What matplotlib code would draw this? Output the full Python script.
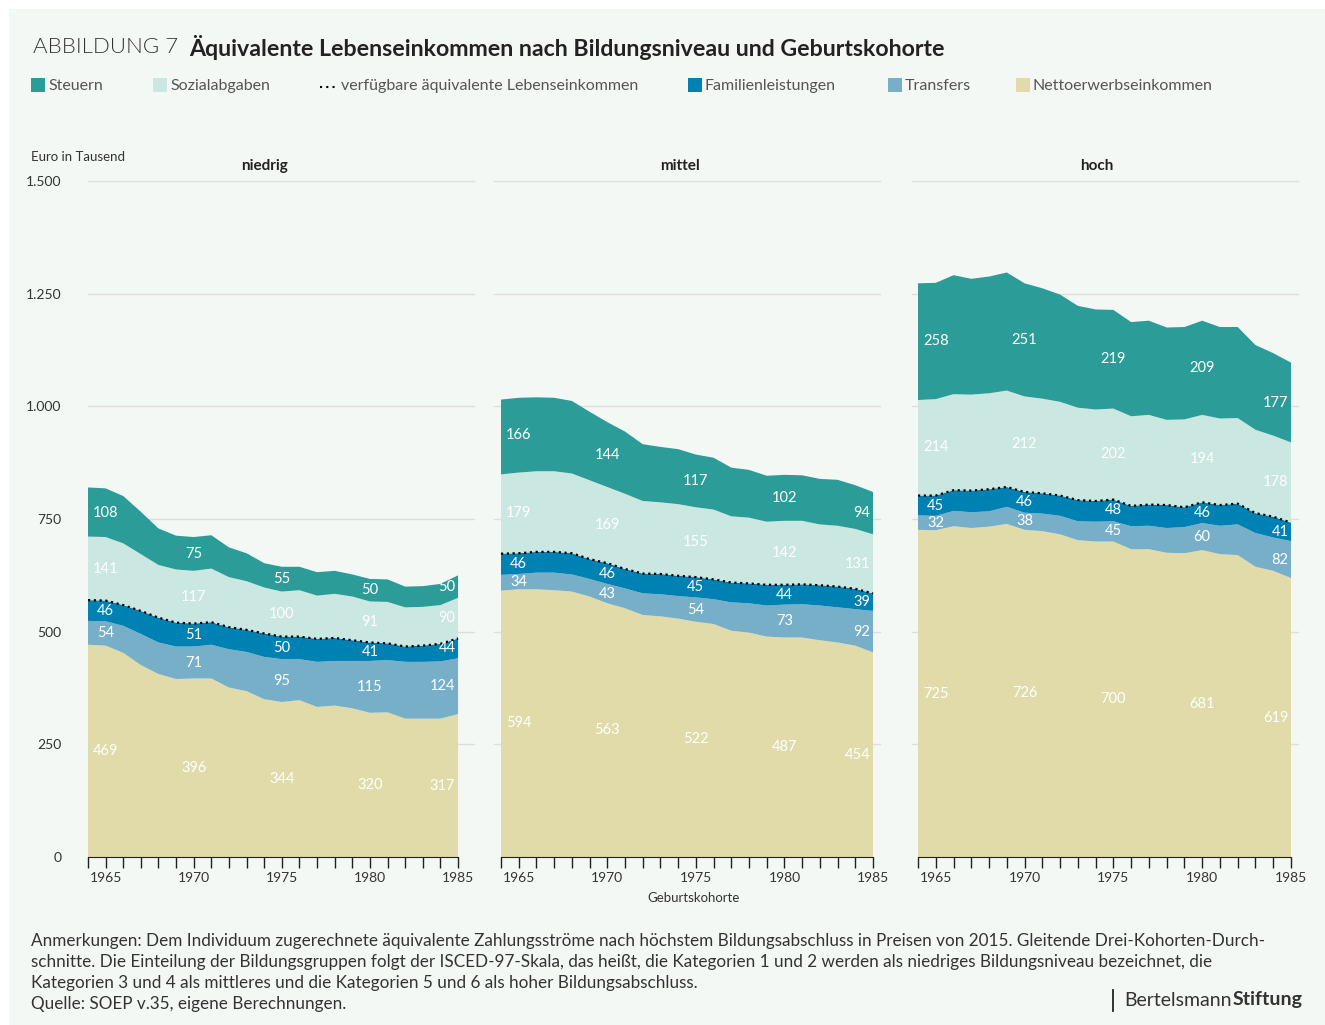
import numpy as np
import matplotlib.pyplot as plt
from matplotlib.patches import Rectangle
from matplotlib.lines import Line2D

plt.rcParams['font.family'] = ['Lato', 'DejaVu Sans']

# Geburtskohorten 1964-1985
jahre = np.arange(1964, 1986)
label_jahre = [1965, 1970, 1975, 1980, 1985]

# niedrig
netto_niedrig = [471, 469, 453, 426, 406, 395, 396, 396, 376, 368, 350, 344, 348, 333, 336, 330, 320, 321, 307, 307, 307, 317]
transfers_niedrig = [53, 54, 60, 69, 70, 72, 71, 75, 85, 87, 94, 95, 91, 100, 99, 105, 115, 116, 126, 126, 127, 124]
familie_niedrig = [46, 46, 46, 51, 55, 53, 51, 50, 49, 49, 52, 50, 50, 51, 51, 46, 41, 37, 34, 36, 39, 44]
sozial_niedrig = [141, 141, 137, 126, 117, 118, 117, 119, 111, 108, 102, 100, 103, 96, 98, 97, 91, 92, 87, 86, 86, 90]
steuern_niedrig = [109, 108, 105, 94, 81, 75, 75, 74, 66, 62, 54, 55, 52, 52, 51, 49, 50, 50, 46, 46, 47, 50]

# mittel
netto_mittel = [591, 594, 594, 592, 589, 578, 563, 552, 537, 534, 529, 522, 517, 502, 498, 489, 487, 487, 481, 476, 469, 454]
transfers_mittel = [35, 34, 37, 39, 38, 39, 43, 44, 48, 49, 50, 54, 55, 63, 65, 69, 73, 74, 77, 78, 81, 92]
familie_mittel = [47, 46, 46, 46, 47, 44, 46, 43, 44, 45, 45, 45, 44, 44, 44, 46, 44, 44, 45, 46, 45, 39]
sozial_mittel = [176, 179, 179, 179, 177, 175, 169, 167, 161, 159, 159, 155, 155, 147, 146, 140, 142, 141, 135, 135, 133, 131]
steuern_mittel = [166, 166, 164, 163, 161, 152, 144, 138, 126, 123, 122, 117, 115, 108, 106, 102, 102, 101, 101, 102, 97, 94]

# hoch
netto_hoch = [726, 725, 734, 730, 733, 739, 726, 723, 716, 703, 700, 700, 683, 683, 675, 674, 681, 672, 670, 644, 635, 619]
transfers_hoch = [32, 32, 34, 35, 34, 38, 38, 39, 41, 42, 44, 45, 51, 52, 55, 58, 60, 63, 68, 75, 74, 82]
familie_hoch = [44, 45, 46, 48, 49, 44, 46, 45, 45, 47, 46, 48, 45, 47, 51, 44, 46, 46, 46, 44, 46, 41]
sozial_hoch = [212, 214, 213, 213, 213, 214, 212, 210, 208, 205, 203, 202, 199, 199, 189, 195, 194, 192, 190, 185, 180, 178]
steuern_hoch = [259, 258, 264, 257, 259, 262, 251, 245, 238, 226, 222, 219, 209, 209, 205, 205, 209, 203, 202, 188, 183, 177]

panel_titel = ['niedrig', 'mittel', 'hoch']
panel_daten = [
    [netto_niedrig, transfers_niedrig, familie_niedrig, sozial_niedrig, steuern_niedrig],
    [netto_mittel, transfers_mittel, familie_mittel, sozial_mittel, steuern_mittel],
    [netto_hoch, transfers_hoch, familie_hoch, sozial_hoch, steuern_hoch],
]
farben = ['#e1dba9', '#77afc9', '#0081b3', '#cbe7e1', '#2c9c99']
yticks = [0, 250, 500, 750, 1000, 1250, 1500]
ytick_labels = ['0', '250', '500', '750', '1.000', '1.250', '1.500']

W, H = 1325, 1025
fig = plt.figure(figsize=(W / 100, H / 100), dpi=100)
fig.patch.set_facecolor('white')
fig.patches.append(Rectangle((9 / W, 0), 1 - 9 / W, 1 - 9 / H, transform=fig.transFigure,
                             facecolor='#f4f8f5', edgecolor='none', zorder=-10))

def fx(px):
    return px / W

def fy(py):
    return 1 - py / H

txt = '#333333'

# Titel
fig.text(fx(33), fy(47), 'ABBILDUNG 7', fontsize=16, fontweight=300, color='#333333', va='center')
fig.text(fx(189), fy(47), 'Äquivalente Lebenseinkommen nach Bildungsniveau und Geburtskohorte',
         fontsize=16.7, fontweight='bold', color='#222222', va='center')

# Legende
leg = [('sq', '#2c9c99', 31, 'Steuern'), ('sq', '#cbe7e1', 153, 'Sozialabgaben'),
       ('dot', 'black', 320, 'verfügbare äquivalente Lebenseinkommen'),
       ('sq', '#0081b3', 688, 'Familienleistungen'), ('sq', '#77afc9', 888, 'Transfers'),
       ('sq', '#e1dba9', 1016, 'Nettoerwerbseinkommen')]
for kind, col, x, lab in leg:
    if kind == 'sq':
        fig.patches.append(Rectangle((fx(x), fy(92)), 14 / W, 14 / H, transform=fig.transFigure,
                                     facecolor=col, edgecolor='none'))
        tx = x + 17
    else:
        fig.lines.append(Line2D([fx(x), fx(x + 15)], [fy(87), fy(87)], transform=fig.transFigure,
                                color=col, lw=1.5, linestyle=(0, (1, 2))))
        tx = x + 21
    fig.text(fx(tx), fy(86), lab, fontsize=11.5, color='#555555', va='center')

fig.text(fx(31), fy(157), 'Euro in Tausend', fontsize=9.5, color=txt, va='center')

axes_px = [(88, 474, 87, 458, 264), (494, 880, 501, 873, 680), (912, 1298, 918, 1291, 1097)]
for k, (l, r, d0, d1, tcx) in enumerate(axes_px):
    ax = fig.add_axes([fx(l), fy(857), (r - l) / W, (857 - 181) / H])
    ax.set_facecolor('none')
    pxyr = (d1 - d0) / 21
    ax.set_xlim(1964 - (d0 - l) / pxyr, 1985 + (r - d1) / pxyr)
    ax.set_ylim(0, 1500)
    for v in yticks[1:]:
        ax.axhline(v, color='#dedede', lw=1, zorder=0, clip_on=False)

    daten = [np.array(s) for s in panel_daten[k]]
    ax.stackplot(jahre, *daten, colors=farben, zorder=1, lw=0)
    verf = daten[0] + daten[1] + daten[2]
    ax.plot(jahre, verf, color='black', lw=1.6, linestyle=(0, (1, 1.6)), zorder=3)

    cum = np.cumsum(daten, axis=0)
    for jahr in label_jahre:
        i = jahr - 1964
        for j in range(5):
            base = cum[j - 1][i] if j > 0 else 0
            ymid = base + daten[j][i] / 2
            if jahr == 1985:
                ax.text(1985 - 0.15, ymid, str(daten[j][i]), ha='right', va='center',
                        fontsize=10.5, color='white', zorder=4)
            else:
                ax.text(jahr, ymid, str(daten[j][i]), ha='center', va='center',
                        fontsize=10.5, color='white', zorder=4)

    for s in ['top', 'right', 'left']:
        ax.spines[s].set_visible(False)
    ax.spines['bottom'].set_bounds(1964, 1985)
    ax.spines['bottom'].set_color('#222222')
    ax.spines['bottom'].set_zorder(5)
    ax.set_xticks(label_jahre)
    ax.set_xticklabels([str(j) for j in label_jahre])
    ax.set_xticks(jahre, minor=True)
    ax.tick_params(axis='x', which='both', length=8, width=1, color='#222222',
                   labelsize=10, labelcolor=txt, pad=3)
    ax.set_yticks(yticks)
    if k == 0:
        ax.set_yticklabels(ytick_labels)
        ax.tick_params(axis='y', length=0, labelsize=10, labelcolor=txt, pad=19)
    else:
        ax.tick_params(axis='y', length=0, labelleft=False)

    fig.text(fx(tcx), fy(166), panel_titel[k], fontsize=11, fontweight='bold', color='#222222',
             ha='center', va='center')

fig.text(fx(694), fy(898), 'Geburtskohorte', fontsize=9.5, color=txt, ha='center', va='center')

# Anmerkungen
fuss = ['Anmerkungen: Dem Individuum zugerechnete äquivalente Zahlungsströme nach höchstem Bildungsabschluss in Preisen von 2015. Gleitende Drei-Kohorten-Durch-',
        'schnitte. Die Einteilung der Bildungsgruppen folgt der ISCED-97-Skala, das heißt, die Kategorien 1 und 2 werden als niedriges Bildungsniveau bezeichnet, die',
        'Kategorien 3 und 4 als mittleres und die Kategorien 5 und 6 als hoher Bildungsabschluss.',
        'Quelle: SOEP v.35, eigene Berechnungen.']
for n, zeile in enumerate(fuss):
    fig.text(fx(31), fy(941 + 21 * n), zeile, fontsize=12.35, color=txt, va='center')

# Logo
fig.lines.append(Line2D([fx(1113), fx(1113)], [fy(990), fy(1011)], transform=fig.transFigure,
                        color='#222222', lw=1.3))
t1 = fig.text(fx(1124), fy(1000), 'Bertelsmann', fontsize=14, color='#333333', va='center')
fig.canvas.draw()
bb = t1.get_window_extent()
fig.text(bb.x1 / W + 1 / W, fy(1000), 'Stiftung', fontsize=14, fontweight='bold',
         color='#333333', va='center')

fig.savefig('out.png', dpi=100, facecolor=fig.get_facecolor())
